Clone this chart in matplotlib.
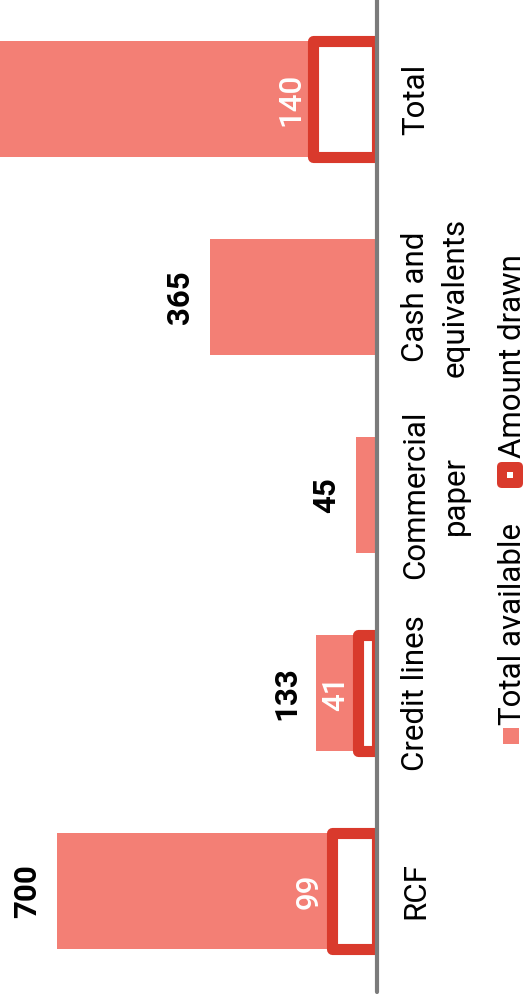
import matplotlib
matplotlib.use("Agg")
import matplotlib.pyplot as plt
from matplotlib.patches import Rectangle, FancyBboxPatch
from matplotlib.transforms import Affine2D

# Liquidity sources: total available vs. amount drawn
categories = ["RCF", "Credit lines", "Commercial\npaper", "Cash and\nequivalents", "Total"]
total_available = [700, 133, 45, 365, 1243]
amount_drawn = [99, 41, 0, 0, 140]
legend_labels = ["Total available", "Amount drawn"]

SALMON = "#f37f75"
RED = "#d93a2c"
GREY = "#7b7b7b"

plt.rcParams["font.family"] = ["Roboto", "DejaVu Sans"]
FS = 22.5
LINE_STEP = 40      # pixels between category label lines

W, H = 526, 1000
fig = plt.figure(figsize=(W / 100, H / 100), dpi=100)
ax = fig.add_axes([0, 8 / H, 377 / W, 992 / H])
ax.set_xlim(825, 0)
ax.set_ylim(-0.51, 4.5)
ax.axis("off")

pos = list(range(len(categories)))
bw = 0.586

ax.barh(pos, total_available, height=bw, color=SALMON, zorder=1)

drawn_pos = [i for i, v in enumerate(amount_drawn) if v > 0]
drawn_vals = [amount_drawn[i] for i in drawn_pos]
ax.barh(drawn_pos, drawn_vals, height=bw, facecolor="white", edgecolor=RED,
        linewidth=8, joinstyle="round", zorder=2)

# value axis baseline
ax.axvline(0, color=GREY, lw=3, solid_capstyle="round", clip_on=False, zorder=5)

xmax = ax.get_xlim()[0]
txt = dict(rotation=90, rotation_mode="anchor", textcoords="offset pixels",
           annotation_clip=False)

for i, v in enumerate(total_available):
    if v < xmax:
        ax.annotate(f"{v}", xy=(v, i), xytext=(-21, 0), ha="center", va="baseline",
                    fontsize=FS, fontweight="bold", color="black", **txt)

for i, v in zip(drawn_pos, drawn_vals):
    ax.annotate(f"{v}", xy=(v, i), xytext=(-14, 0), ha="center", va="baseline",
                fontsize=FS, fontweight="medium", color="white", zorder=6, **txt)

# category labels, one annotation per line
for i, c in enumerate(categories):
    for k, line in enumerate(c.split("\n")):
        ax.annotate(line, xy=(0, i), xytext=(47 + LINE_STEP * k, 0), ha="center",
                    va="baseline", fontsize=FS, color="black", **txt)

# legend, laid out in pixels from the top-left corner
px = Affine2D().scale(1 / W, -1 / H).translate(0, 1) + fig.transFigure

fig.patches.append(Rectangle((503, 728), 16, 16, facecolor=SALMON,
                             edgecolor="none", transform=px, figure=fig))
fig.text(521, 725, legend_labels[0], transform=px, rotation=90,
         rotation_mode="anchor", ha="left", va="baseline", fontsize=FS)

fig.patches.append(FancyBboxPatch((500, 465), 20, 20,
                                  boxstyle="round,pad=3,rounding_size=5",
                                  facecolor=RED, edgecolor="none",
                                  transform=px, figure=fig))
fig.patches.append(Rectangle((507, 472), 6, 6, facecolor="white",
                             edgecolor="none", transform=px, figure=fig))
fig.text(521, 458, legend_labels[1], transform=px, rotation=90,
         rotation_mode="anchor", ha="left", va="baseline", fontsize=FS)

fig.savefig("out.png", dpi=100)
